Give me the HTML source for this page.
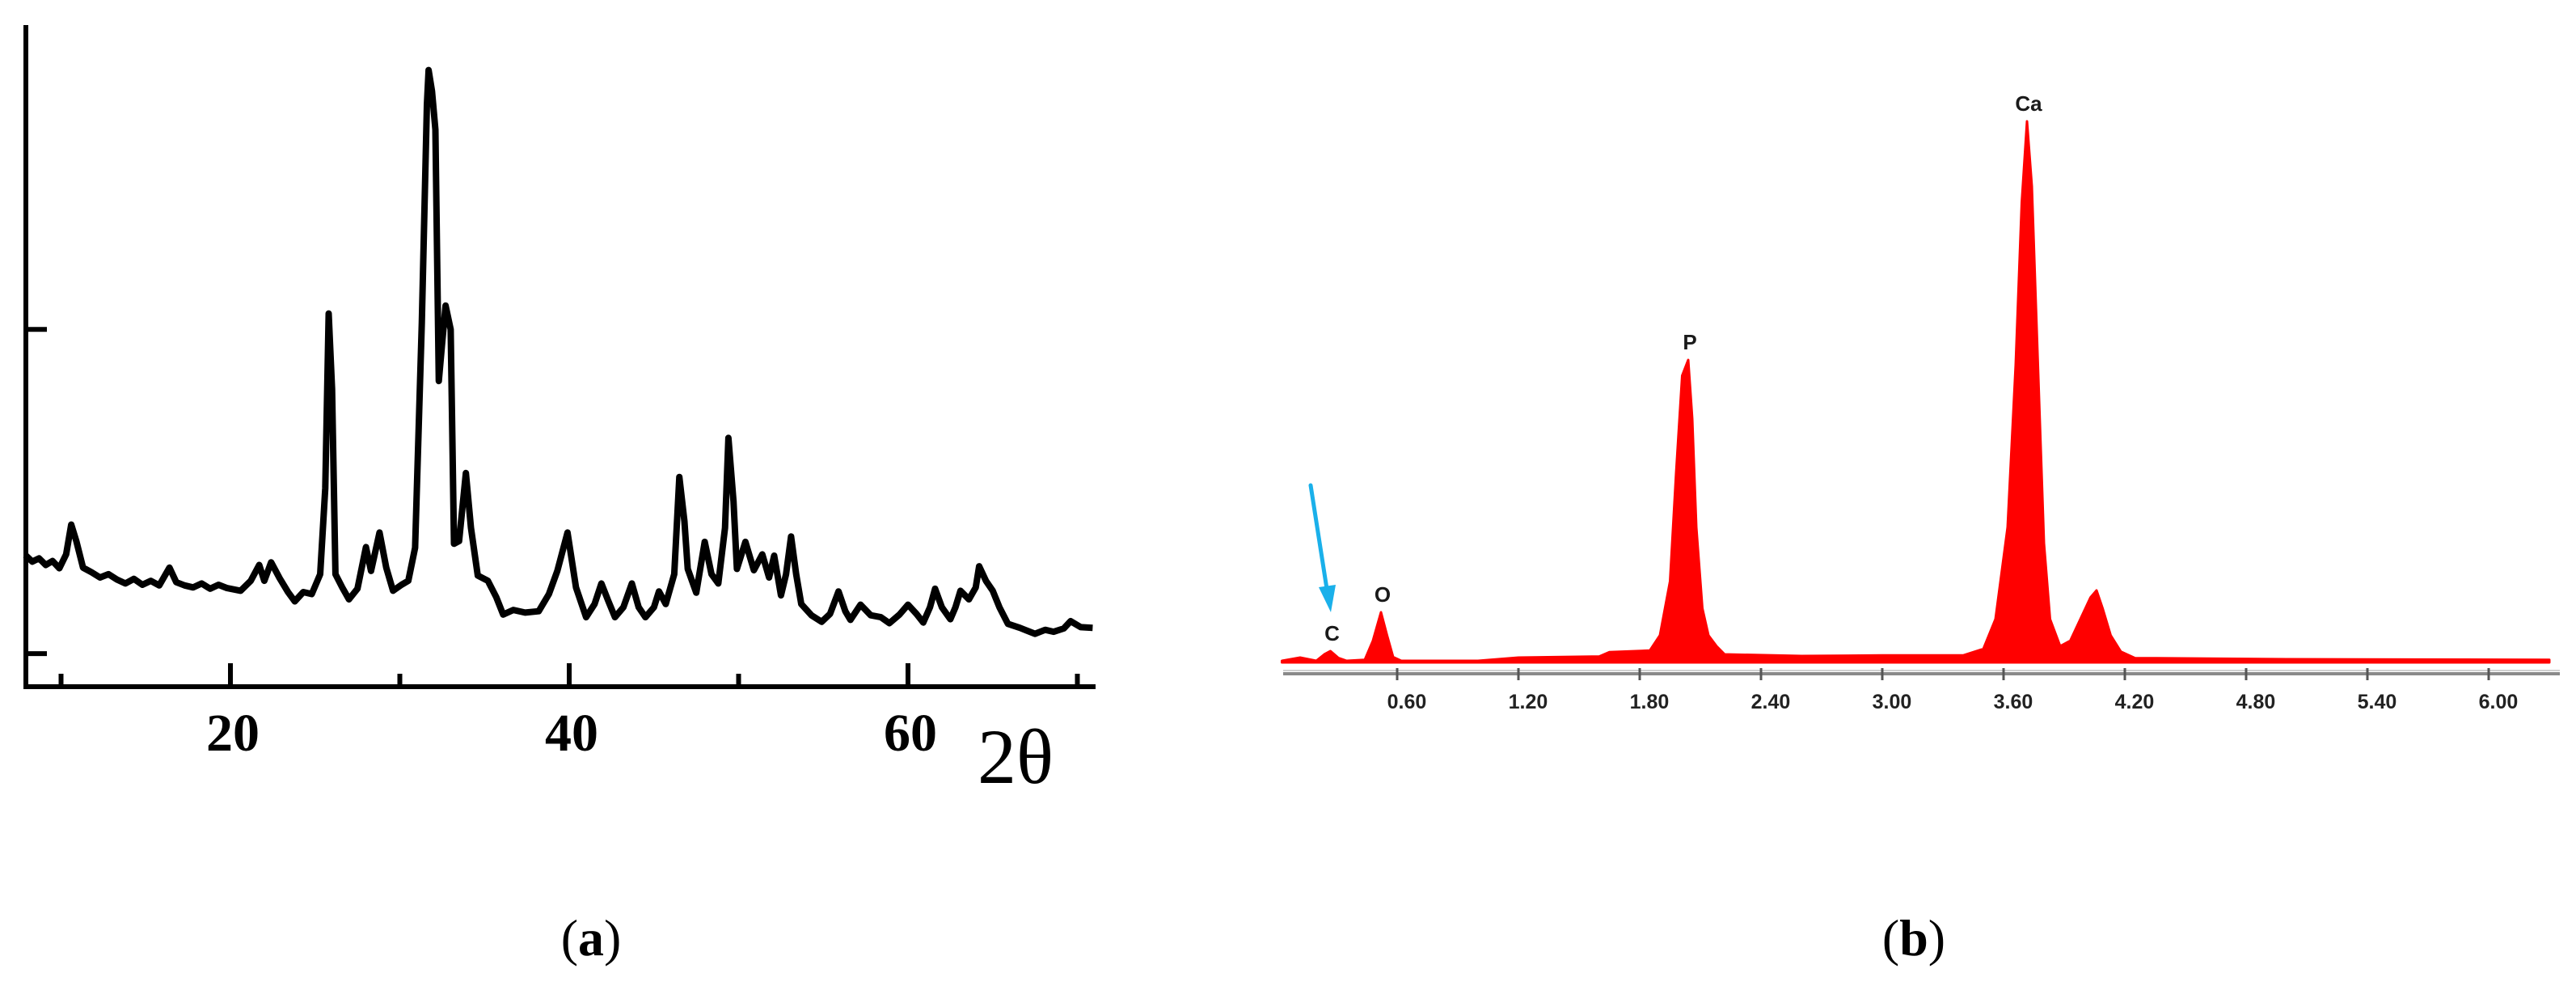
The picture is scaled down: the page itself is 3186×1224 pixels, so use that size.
<!DOCTYPE html>
<html><head><meta charset="utf-8"><style>
html,body{margin:0;padding:0;background:#fff;}
svg{display:block;}
</style></head><body>
<svg id="fig" width="3186" height="1224" viewBox="0 0 3186 1224" xmlns="http://www.w3.org/2000/svg">
<g id="xrd"></g>
<g id="eds"></g>
<text x="731" y="1181" text-anchor="middle" font-family="Liberation Serif, serif" font-size="64">(<tspan font-weight="bold">a</tspan>)</text>
<text x="2367" y="1181" text-anchor="middle" font-family="Liberation Serif, serif" font-size="64">(<tspan font-weight="bold">b</tspan>)</text>
</svg>
<script>
// XRD data (2theta, intensity a.u.)
const xrdTheta = [7.89,8.3,8.7,9.1,9.5,9.9,10.3,10.6,10.9,11.3,11.8,12.3,12.8,13.3,13.8,14.3,14.8,15.3,15.8,16.4,16.8,17.3,17.8,18.3,18.8,19.3,19.8,20.6,21.2,21.7,22.0,22.4,22.9,23.4,23.8,24.3,24.8,25.3,25.6,25.8,26.0,26.2,26.6,27.0,27.5,28.0,28.3,28.8,29.2,29.6,30.1,30.5,30.9,31.3,31.6,31.7,31.9,32.1,32.3,32.5,32.7,33.0,33.2,33.5,33.9,34.2,34.6,35.2,35.7,36.1,36.7,37.4,38.2,38.8,39.3,39.9,40.4,41.0,41.5,41.9,42.3,42.7,43.2,43.7,44.1,44.5,45.0,45.3,45.7,46.2,46.5,46.8,47.0,47.5,48.0,48.4,48.8,49.2,49.4,49.7,49.9,50.4,50.9,51.4,51.8,52.1,52.5,52.8,53.1,53.4,53.7,54.3,54.9,55.4,55.9,56.3,56.6,57.2,57.8,58.4,58.9,59.5,60.0,60.5,60.9,61.3,61.6,62.0,62.5,62.8,63.1,63.6,64.0,64.2,64.6,65.0,65.4,65.9,66.6,67.0,67.5,68.1,68.6,69.2,69.6,70.2,70.9];
const xrdIntensity = [19.9,18.9,19.4,18.4,19.0,17.9,20.0,24.5,22.0,18.0,17.3,16.5,17.0,16.2,15.6,16.3,15.4,16.0,15.3,18.0,15.8,15.3,15.0,15.6,14.8,15.4,14.9,14.5,16.0,18.4,16.0,18.8,16.4,14.3,12.9,14.3,14.0,17.0,30.0,56.4,45.0,17.0,15.0,13.2,14.8,21.1,17.5,23.3,18.0,14.5,15.4,16.0,21.0,55.0,88.0,93.2,90.0,84.2,46.2,52.0,57.6,54.0,21.6,22.0,32.3,24.0,16.8,16.0,13.5,10.9,11.6,11.2,11.4,14.0,17.5,23.3,15.0,10.5,12.5,15.6,13.0,10.5,12.0,15.6,12.0,10.5,12.0,14.4,12.5,17.0,31.7,25.0,17.8,14.2,21.9,17.0,15.6,24.0,37.6,28.0,17.8,21.9,17.6,20.0,16.5,19.8,13.8,17.0,22.7,17.0,12.5,10.8,9.8,11.0,14.4,11.4,10.1,12.4,10.8,10.5,9.6,10.9,12.4,11.0,9.7,12.0,14.8,12.0,10.2,12.0,14.5,13.2,15.0,18.2,16.0,14.5,12.0,9.5,8.9,8.5,8.0,8.6,8.3,8.8,9.9,9.0,8.9];
const xrdTicks = [20,40,60];
const xrdMinorTicks = [10,30,50,70];
const xrdYTicks = [5,54];

// EDS data (energy keV, counts a.u.)
const edsEnergy = [0.03,0.12,0.2,0.24,0.27,0.31,0.35,0.44,0.48,0.52,0.55,0.58,0.62,1.0,1.2,1.6,1.65,1.85,1.9,1.95,1.98,2.01,2.04,2.06,2.08,2.11,2.14,2.18,2.22,2.6,3.0,3.4,3.5,3.56,3.62,3.66,3.69,3.716,3.74,3.77,3.8,3.83,3.88,3.93,3.98,4.03,4.06,4.09,4.13,4.18,4.25,5.0,6.3];
const edsCounts = [0.3,0.9,0.3,1.5,2.1,0.8,0.3,0.5,4,9.27,5,1,0.3,0.3,0.9,1.1,1.9,2.2,5,15,35,53,55.9,45,25,10,5,3,1.5,1.2,1.3,1.3,2.5,8,25,55,85,100,88,55,22,8,3,4,8,12,13.3,10,5,2,0.8,0.6,0.5];
const edsTicks = [0.6,1.2,1.8,2.4,3.0,3.6,4.2,4.8,5.4,6.0];
const edsTickLabels = ["0.60","1.20","1.80","2.40","3.00","3.60","4.20","4.80","5.40","6.00"];
const edsPeakNames = ["C","O","P","Ca"];
const edsPeakEnergy = [0.27,0.52,2.04,3.716];
const edsPeakCounts = [2.1,9.27,55.9,100];

const NS = "http://www.w3.org/2000/svg";
function mk(parent, tag, attrs){
  const e = document.createElementNS(NS, tag);
  for (const k in attrs) e.setAttribute(k, attrs[k]);
  parent.appendChild(e);
  return e;
}

// ---------- XRD ----------
(function(){
  const g = document.getElementById('xrd');
  const X = t => -134 + t*20.95;
  const Y = v => 849 - v*8.18;
  let el;
  let d = xrdTheta.map((t,i)=>(i?'L':'M')+X(t).toFixed(1)+','+Y(xrdIntensity[i]).toFixed(1)).join(' ');
  el = mk(g,'path',{d:d,fill:'none',stroke:'#000','stroke-width':8,'stroke-linejoin':'round'});
  
  
  el = mk(g,'line',{x1:32,y1:31,x2:32,y2:852,stroke:'#000','stroke-width':6});
  
  
  el = mk(g,'line',{x1:29,y1:849,x2:1355,y2:849,stroke:'#000','stroke-width':6});
  
  
  xrdYTicks.forEach(v=>{
    el = mk(g,'line',{x1:32,y1:Y(v),x2:58,y2:Y(v),stroke:'#000','stroke-width':6});
    
    
  });
  xrdTicks.forEach(t=>{
    el = mk(g,'line',{x1:X(t),y1:820,x2:X(t),y2:849,stroke:'#000','stroke-width':6});
    
    
    el = mk(g,'text',{x:X(t)+3,y:928,'text-anchor':'middle','font-family':'Liberation Serif, serif','font-size':66,'font-weight':'bold'});
    el.textContent = String(t);
    
    
  });
  xrdMinorTicks.forEach(t=>{
    el = mk(g,'line',{x1:X(t),y1:833,x2:X(t),y2:849,stroke:'#000','stroke-width':6});
    
    
  });
  el = mk(g,'text',{x:1256,y:968,'text-anchor':'middle','font-family':'Liberation Serif, serif','font-size':96});
  el.textContent = '2θ';
  
  
})();

// ---------- EDS ----------
(function(){
  const g = document.getElementById('eds');
  const X = e => 1578 + e*250;
  const Y = c => 819 - c*6.69;
  let el;
  let d = 'M'+X(edsEnergy[0])+','+Y(0)+' ' + edsEnergy.map((e,i)=>'L'+X(e).toFixed(1)+','+Y(edsCounts[i]).toFixed(1)).join(' ') + ' L'+X(edsEnergy[edsEnergy.length-1])+','+Y(0)+' Z';
  el = mk(g,'path',{d:d,fill:'#ff0000',stroke:'#ff0000','stroke-width':3,'stroke-linejoin':'round'});
  
  
  el = mk(g,'line',{x1:1587,y1:833,x2:3166,y2:833,stroke:'#8a8a8a','stroke-width':4});
  
  
  el = mk(g,'line',{x1:1587,y1:829,x2:3166,y2:829,stroke:'#d0d0d0','stroke-width':2});
  
  
  edsTicks.forEach((t,i)=>{
    el = mk(g,'line',{x1:X(t),y1:826,x2:X(t),y2:841,stroke:'#555','stroke-width':3});
    
    
    el = mk(g,'text',{x:X(t)+12,y:876,'text-anchor':'middle','font-family':'Liberation Sans, sans-serif','font-size':25,'font-weight':'bold',fill:'#222'});
    el.textContent = edsTickLabels[i];
    
    
  });
  edsPeakNames.forEach((n,i)=>{
    el = mk(g,'text',{x:X(edsPeakEnergy[i])+2,y:Y(edsPeakCounts[i])-13,'text-anchor':'middle','font-family':'Liberation Sans, sans-serif','font-size':26,'font-weight':'bold',fill:'#1a1a1a'});
    el.textContent = n;
    
    
  });
  el = mk(g,'line',{x1:1621,y1:600,x2:1641,y2:728,stroke:'#1ab0ea','stroke-width':5,'stroke-linecap':'round'});
  
  
  el = mk(g,'polygon',{points:'1631,726 1652,723 1646,757',fill:'#1ab0ea'});
  
  
})();
</script>
</body></html>
